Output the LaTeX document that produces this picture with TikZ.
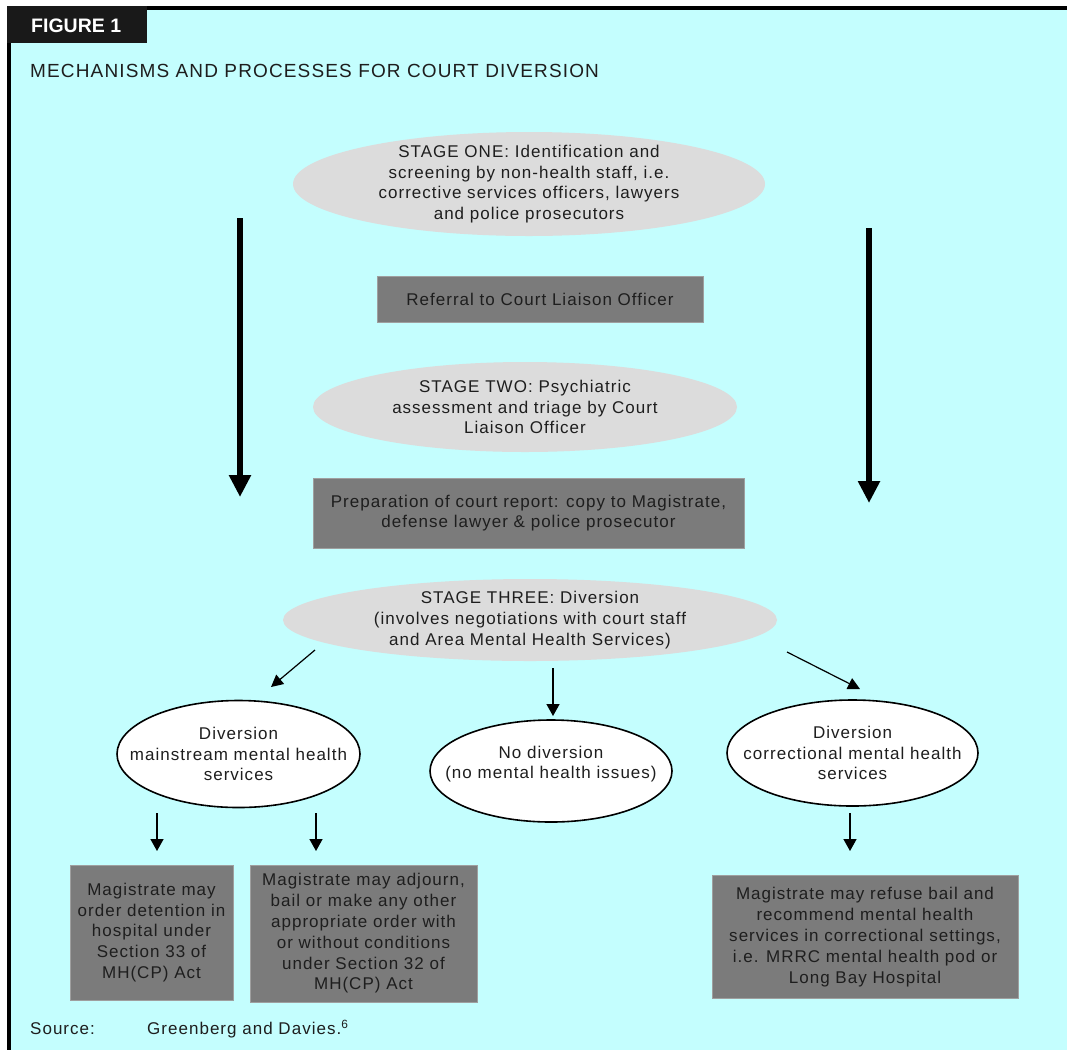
\documentclass[tikz,border=0pt]{standalone}
\usepackage{fontspec}
\setmainfont{Liberation Sans}[LetterSpace=6]
\newfontfamily\tabfont{Liberation Sans}
\usetikzlibrary{shapes.geometric,arrows.meta}
\definecolor{bgcyan}{HTML}{C4FEFE}
\definecolor{ellgray}{HTML}{DCDCDC}
\definecolor{boxgray}{HTML}{7B7B7B}
\definecolor{txtdark}{HTML}{1E1E1E}
\begin{document}
\begin{tikzpicture}[x=1pt,y=-1pt,
  body/.style={font=\fontsize{17}{20.8}\selectfont, align=center, text=txtdark},
  stageell/.style={ellipse, fill=ellgray, inner sep=0pt},
  whiteell/.style={ellipse, fill=white, draw=black, line width=1.6pt, inner sep=0pt},
  graybox/.style={rectangle, fill=boxgray, draw=gray!75, line width=0.6pt, inner sep=0pt, body},
  bigarrow/.style={line width=6pt, -{Triangle[width=21pt,length=22pt]}},
  smallarrow/.style={line width=1.5pt, -{Triangle[width=13pt,length=12pt]}},
  diagarrow/.style={line width=1.2pt, -{Triangle[width=12pt,length=12pt]}},
]
\useasboundingbox (0,0) rectangle (1067,1050);
\fill[bgcyan] (9,8) rectangle (1067,1050);
\draw[line width=4pt] (7,8) -- (1067,8);
\draw[line width=4pt] (9,6) -- (9,1050);
\fill[black!90] (7,6) rectangle (147,43);
\node[anchor=west, text=white, font=\tabfont\bfseries\fontsize{19.5}{22}\selectfont, inner sep=0pt] (fig) at (31,26) {FIGURE 1};
\node[anchor=west, text=txtdark, font=\fontsize{19}{22}\selectfont, inner sep=0pt] (title) at (30,71) {MECHANISMS AND PROCESSES FOR COURT DIVERSION};

% stages
\node[stageell, minimum width=472pt, minimum height=104pt,
  label={[body]center:STAGE ONE: Identification and\\screening by non-health staff, i.e.\\corrective services officers, lawyers\\and police prosecutors}] (s1) at (529,184) {};
\node[graybox, minimum width=326pt, minimum height=46pt] (ref) at (540,299) {Referral to Court Liaison Officer};
\node[stageell, minimum width=424pt, minimum height=90pt,
  label={[body]center:STAGE TWO: Psychiatric\\assessment and triage by Court\\Liaison Officer}] (s2) at (525,407) {};
\node[graybox, minimum width=431pt, minimum height=70pt] (prep) at (528.5,513) {Preparation of court report: copy to Magistrate,\\defense lawyer \& police prosecutor};
\node[stageell, minimum width=494pt, minimum height=82pt,
  label={[body]center:STAGE THREE: Diversion\\(involves negotiations with court staff\\and Area Mental Health Services)}] (s3) at (530,620) {};

% outcomes
\node[whiteell, minimum width=243pt, minimum height=107pt,
  label={[body]center:Diversion\\mainstream mental health\\services}] (dl) at (238.5,754) {};
\node[whiteell, minimum width=242pt, minimum height=102pt,
  label={[body,yshift=7pt]center:No diversion\\(no mental health issues)}] (dm) at (551,771) {};
\node[whiteell, minimum width=251pt, minimum height=106pt,
  label={[body]center:Diversion\\correctional mental health\\services}] (dr) at (852.5,753) {};

% magistrate boxes
\node[graybox, minimum width=163pt, minimum height=135pt] (bl1) at (151.5,932.5) {Magistrate may\\order detention in\\hospital under\\Section 33 of\\MH(CP) Act};
\node[graybox, minimum width=227pt, minimum height=137pt] (bl2) at (363.5,933.5) {Magistrate may adjourn,\\bail or make any other\\appropriate order with\\or without conditions\\under Section 32 of\\MH(CP) Act};
\node[graybox, minimum width=306pt, minimum height=123pt] (br) at (865,937) {Magistrate may refuse bail and\\recommend mental health\\services in correctional settings,\\i.e. MRRC mental health pod or\\Long Bay Hospital};

% arrows
\coordinate (la1) at (240,218); \coordinate (la2) at (240,497);
\coordinate (ra1) at (869,228); \coordinate (ra2) at (869,503);
\draw[bigarrow] (la1) -- (la2);
\draw[bigarrow] (ra1) -- (ra2);

\coordinate (d1a) at (315,650); \coordinate (d1b) at (271,687);
\coordinate (d2a) at (553,668); \coordinate (d2b) at (553,716);
\coordinate (d3a) at (787,652); \coordinate (d3b) at (860,689);
\draw[diagarrow] (d1a) -- (d1b);
\draw[smallarrow] (d2a) -- (d2b);
\draw[diagarrow] (d3a) -- (d3b);

\coordinate (m1a) at (157,813); \coordinate (m1b) at (157,851);
\coordinate (m2a) at (316,813); \coordinate (m2b) at (316,851);
\coordinate (m3a) at (850,813); \coordinate (m3b) at (850,851);
\draw[smallarrow] (m1a) -- (m1b);
\draw[smallarrow] (m2a) -- (m2b);
\draw[smallarrow] (m3a) -- (m3b);

% source
\node[anchor=west, body, inner sep=0pt] (src) at (30,1029) {Source:};
\node[anchor=west, body, inner sep=0pt] (srcref) at (147,1029) {Greenberg and Davies.\textsuperscript{6}};
\end{tikzpicture}
\end{document}
